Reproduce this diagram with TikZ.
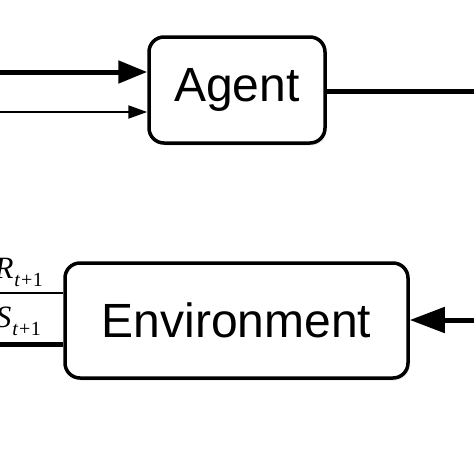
\documentclass[tikz,border=0pt]{standalone}
\usepackage{fontspec}
\setmainfont{Liberation Sans}
\newfontfamily\timesfont{Liberation Serif}
\usetikzlibrary{arrows.meta,shadows}
\tikzset{
  blockbox/.style={draw, line width=3.5pt, rounded corners=15pt, fill=white,
    font=\fontsize{48}{56}\selectfont, inner sep=0pt,
    drop shadow={opacity=0.18, shadow xshift=1.5pt, shadow yshift=-2.5pt}},
  thickline/.style={line width=5pt},
  thinline/.style={line width=2pt},
  mathlabel/.style={font=\timesfont\fontsize{31}{36}\selectfont, inner sep=0pt},
}
\newcommand{\subtplus}{\raisebox{-8pt}{\fontsize{20}{24}\selectfont\itshape t\upshape\kern1pt+\kern0.5pt1}}
\begin{document}
\begin{tikzpicture}[x=1pt,y=-1pt]
\useasboundingbox (0,0) rectangle (474,474);
\node[blockbox, minimum width=176pt, minimum height=106pt] (agent) at (237,90) {Agent};
\node[blockbox, minimum width=343pt, minimum height=115pt] (env) at (236.5,320.5) {Environment};
% inputs to agent
\coordinate (in1) at (-5,72);
\coordinate (in2) at (-5,112);
\draw[thickline, -{Triangle[length=29pt,width=22pt]}] (in1) -- (agent.west |- in1);
\draw[thinline, -{Triangle[length=19pt,width=13pt]}] (in2) -- (agent.west |- in2);
% action out of agent
\coordinate (out1) at (480,91);
\draw[thickline] (agent.east |- out1) -- (out1);
% action into environment
\coordinate (in3) at (480,320);
\draw[thickline, -{Triangle[length=35pt,width=25pt]}] (in3) -- (env.east |- in3);
% outputs of environment
\coordinate (r1) at (-5,293);
\coordinate (s1) at (-5,344);
\draw[thinline] (env.west |- r1) -- (r1);
\draw[thickline] (env.west |- s1) -- (s1);
\node[mathlabel, anchor=base east] (rlab) at (43,278) {\itshape R\kern1pt\subtplus};
\node[mathlabel, anchor=base east] (slab) at (41,327) {\itshape S\kern1pt\subtplus};
\end{tikzpicture}
\end{document}
